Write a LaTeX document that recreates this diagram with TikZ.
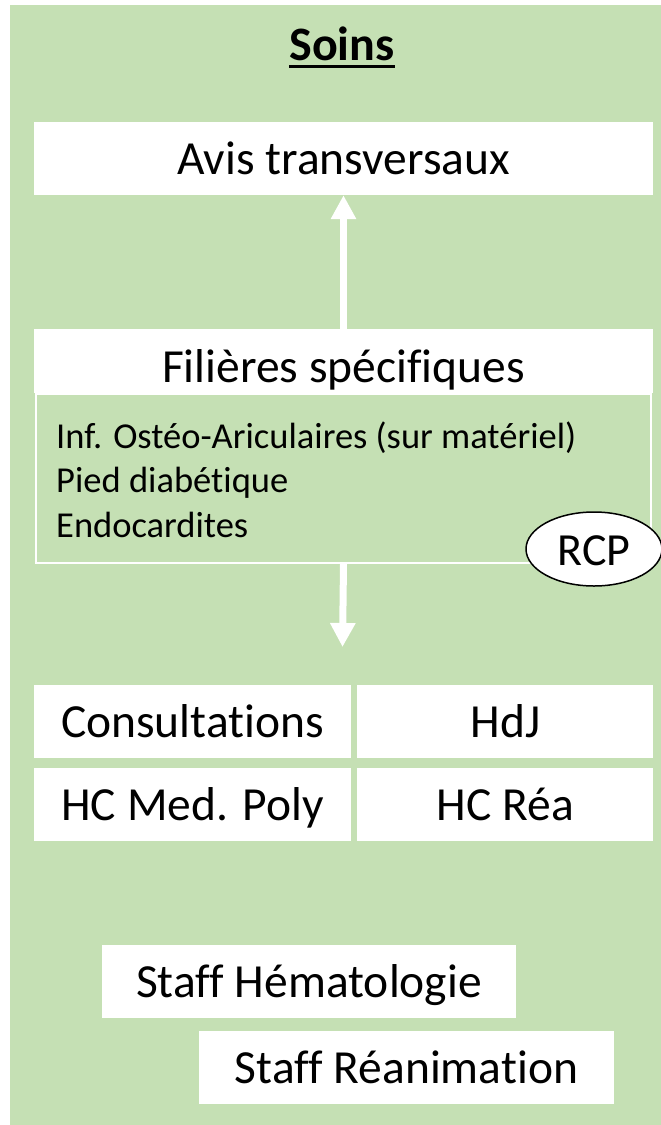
\documentclass[tikz,border=0pt]{standalone}
\usepackage{fontspec}
\setmainfont[Ligatures=NoCommon]{Carlito}
\usetikzlibrary{
  arrows.meta,
  shapes.geometric,
  positioning
}
\definecolor{soinsgreen}{RGB}{197,224,180}

\begin{document}
\begin{tikzpicture}[
      x=1pt, y=-1pt,
      title/.style={
         inner sep=0pt,
         text height=31pt,
         text depth=0pt,
         font=\bfseries\fontsize{48}{58}\selectfont
      },
      cell/.style={
         rectangle,
         fill=white,
         inner sep=0pt,
         minimum height=73pt,
         text height=32pt,
         text depth=0pt,
         font=\fontsize{47.5}{57}\selectfont
      },
      item/.style={
         anchor=base west,
         inner sep=0pt,
         font=\fontsize{36.5}{44}\selectfont
      },
      bubble/.style={
         ellipse,
         draw=black,
         line width=1.5pt,
         fill=white,
         inner sep=0pt,
         minimum width=136pt,
         minimum height=74pt,
         text height=32pt,
         text depth=0pt,
         font=\fontsize{46}{55}\selectfont
      },
      flow/.style={
         draw=white,
         line width=7pt,
         -{Triangle[width=24pt,length=24pt]}
      }
    ]
    \useasboundingbox (0,0) rectangle (661,1125);
    \fill[soinsgreen] (10,5) rectangle (661,1125);

    \node (soins) [title] at (342,44.5) {Soins};
    \draw[line width=3pt] ([yshift=-6.5pt]soins.base west) -- ([yshift=-6.5pt]soins.base east);

    \node (avis) [cell, minimum width=619pt] at (343.5,158.5) {Avis transversaux};
    \node (fil) [cell, minimum width=619pt, minimum height=64pt, text height=42pt] at (343.5,361) {Filières spécifiques};
    \node (filbox) [draw=white, line width=2pt, minimum width=615pt, minimum height=169pt, inner sep=0pt, anchor=north west] at (35,393) {};
    \foreach \txt [count=\i] in {Inf. Ostéo-Ariculaires (sur matériel), Pied diabétique, Endocardites}
       \node (item\i) [item] at (56,403.5+44.5*\i) {\txt};
    \node (rcp) [bubble] at (594,549) {RCP};

    \draw[flow] (fil.north) -- (avis.south);
    \coordinate (tip) at (342.5,647);
    \draw[flow] (filbox.south) -- (tip);

    \node (cons) [cell, minimum width=317pt] at (192.5,721.5) {Consultations};
    \node (hdj) [cell, minimum width=296pt, right=6pt of cons] {HdJ};
    \node (hcmed) [cell, minimum width=317pt, below=10pt of cons] {HC Med. Poly};
    \node (hcrea) [cell, minimum width=296pt, below=10pt of hdj] {HC Réa};

    \node (hemato) [cell, minimum width=414pt] at (309,981.5) {Staff Hématologie};
    \node (rea) [cell, minimum width=415pt] at (406.5,1067.5) {Staff Réanimation};
\end{tikzpicture}
\end{document}
